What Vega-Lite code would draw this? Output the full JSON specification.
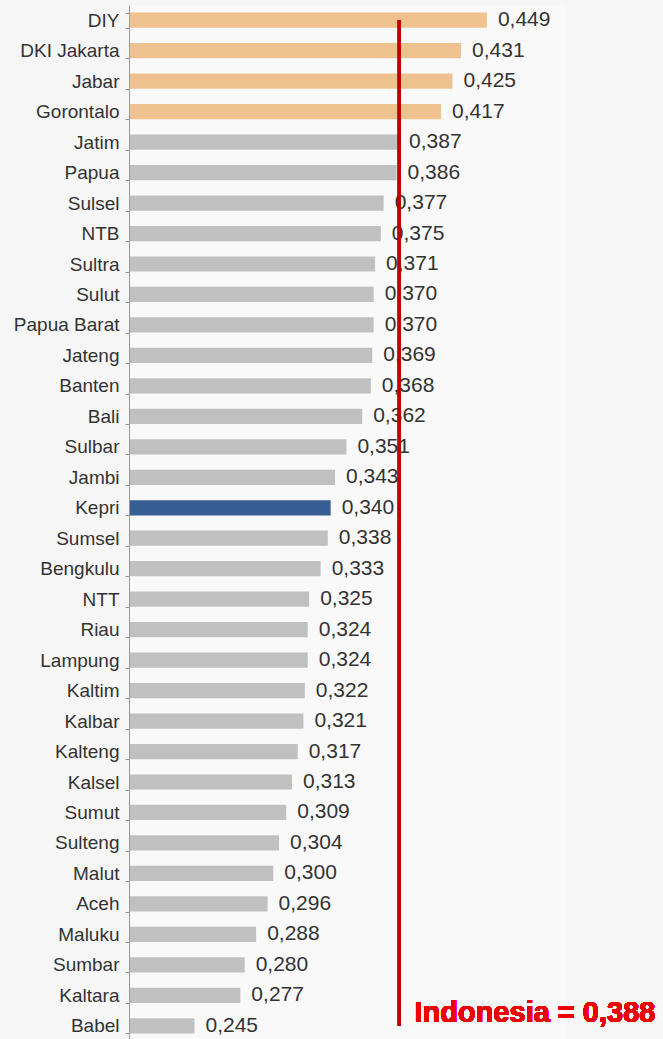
{
  "$schema": "https://vega.github.io/schema/vega-lite/v6.json",
  "width": 435,
  "height": 1036,
  "autosize": {"type": "none"},
  "padding": {"left": 130, "top": 5, "right": 98, "bottom": 0},
  "background": "#f6f6f6",
  "config": {
    "view": {"stroke": null, "fill": "#f9f9f9"},
    "font": "Liberation Sans",
    "locale": {"number": {"decimal": ",", "thousands": ".", "grouping": [3], "currency": ["", ""]}}
  },
  "data": {
    "values": [
      {"prov": "DIY", "val": 0.449, "grp": "top"},
      {"prov": "DKI Jakarta", "val": 0.431, "grp": "top"},
      {"prov": "Jabar", "val": 0.425, "grp": "top"},
      {"prov": "Gorontalo", "val": 0.417, "grp": "top"},
      {"prov": "Jatim", "val": 0.387, "grp": "other"},
      {"prov": "Papua", "val": 0.386, "grp": "other"},
      {"prov": "Sulsel", "val": 0.377, "grp": "other"},
      {"prov": "NTB", "val": 0.375, "grp": "other"},
      {"prov": "Sultra", "val": 0.371, "grp": "other"},
      {"prov": "Sulut", "val": 0.370, "grp": "other"},
      {"prov": "Papua Barat", "val": 0.370, "grp": "other"},
      {"prov": "Jateng", "val": 0.369, "grp": "other"},
      {"prov": "Banten", "val": 0.368, "grp": "other"},
      {"prov": "Bali", "val": 0.362, "grp": "other"},
      {"prov": "Sulbar", "val": 0.351, "grp": "other"},
      {"prov": "Jambi", "val": 0.343, "grp": "other"},
      {"prov": "Kepri", "val": 0.340, "grp": "kepri"},
      {"prov": "Sumsel", "val": 0.338, "grp": "other"},
      {"prov": "Bengkulu", "val": 0.333, "grp": "other"},
      {"prov": "NTT", "val": 0.325, "grp": "other"},
      {"prov": "Riau", "val": 0.324, "grp": "other"},
      {"prov": "Lampung", "val": 0.324, "grp": "other"},
      {"prov": "Kaltim", "val": 0.322, "grp": "other"},
      {"prov": "Kalbar", "val": 0.321, "grp": "other"},
      {"prov": "Kalteng", "val": 0.317, "grp": "other"},
      {"prov": "Kalsel", "val": 0.313, "grp": "other"},
      {"prov": "Sumut", "val": 0.309, "grp": "other"},
      {"prov": "Sulteng", "val": 0.304, "grp": "other"},
      {"prov": "Malut", "val": 0.300, "grp": "other"},
      {"prov": "Aceh", "val": 0.296, "grp": "other"},
      {"prov": "Maluku", "val": 0.288, "grp": "other"},
      {"prov": "Sumbar", "val": 0.280, "grp": "other"},
      {"prov": "Kaltara", "val": 0.277, "grp": "other"},
      {"prov": "Babel", "val": 0.245, "grp": "other"}
    ]
  },
  "encoding": {
    "y": {
      "field": "prov",
      "type": "nominal",
      "sort": null,
      "scale": {"paddingInner": 0.5, "paddingOuter": 0.25},
      "axis": {
        "title": null,
        "labelFontSize": 19,
        "labelColor": "#333333",
        "labelPadding": 6,
        "tickSize": 4,
        "tickColor": "#999999",
        "domainColor": "#999999",
        "tickBand": "extent",
        "offset": 1
      }
    }
  },
  "layer": [
    {
      "mark": {"type": "bar", "clip": true},
      "encoding": {
        "x": {
          "field": "val",
          "type": "quantitative",
          "scale": {"domain": [0.2, 0.5035], "zero": false, "nice": false},
          "axis": null
        },
        "x2": {"datum": 0.2},
        "color": {
          "field": "grp",
          "type": "nominal",
          "scale": {"domain": ["top", "other", "kepri"], "range": ["#efc18f", "#c0c0c0", "#365d94"]},
          "legend": null
        }
      }
    },
    {
      "mark": {"type": "text", "align": "left", "baseline": "middle", "dx": 11, "fontSize": 21, "color": "#333333"},
      "encoding": {
        "x": {"field": "val", "type": "quantitative"},
        "text": {"field": "val", "type": "quantitative", "format": ".3f"}
      }
    },
    {
      "mark": {"type": "rule", "color": "#c00000", "strokeWidth": 3},
      "encoding": {
        "x": {"datum": 0.388},
        "y": {"datum": "DIY"},
        "y2": {"datum": "Babel"}
      }
    },
    {
      "mark": {"type": "text", "align": "left", "baseline": "middle", "dx": 15, "dy": -13, "fontSize": 29, "fontWeight": "bold", "color": "#ee0000", "text": "Indonesia = 0,388"},
      "encoding": {
        "x": {"datum": 0.388},
        "y": {"datum": "Babel"}
      }
    }
  ]
}
